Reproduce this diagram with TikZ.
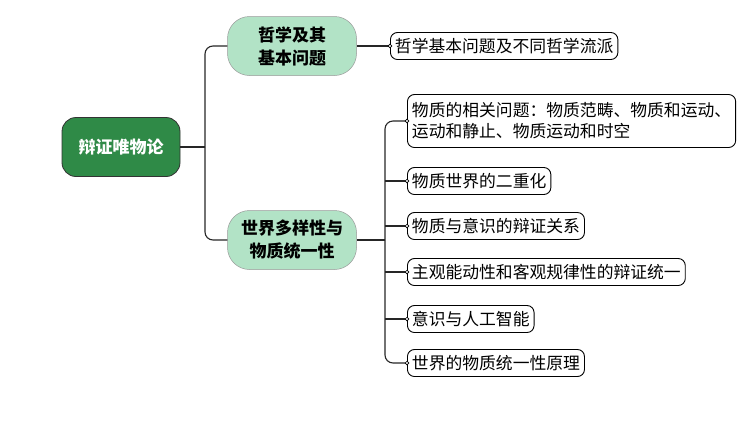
\documentclass[tikz,border=0pt]{standalone}
\usepackage{fontspec}
\newfontfamily\cjk{Noto Sans CJK SC}
\definecolor{rootg}{HTML}{2F8A47}
\definecolor{midg}{HTML}{B2E3C6}
\begin{document}
\begin{tikzpicture}[x=1pt,y=-1pt,
  font=\cjk\fontsize{16.8}{21}\selectfont,
  root/.style={draw=black!80,line width=0.8pt,fill=rootg,text=white,rounded corners=14pt,minimum width=118pt,minimum height=59pt,font=\cjk\bfseries\fontsize{17}{20}\selectfont},
  mid/.style={draw=black!40,line width=0.5pt,fill=midg,rounded corners=22pt,minimum width=129pt,minimum height=59pt,align=center,font=\cjk\bfseries\fontsize{17}{23}\selectfont},
  leaf/.style={draw=black,line width=0.9pt,fill=white,rounded corners=7pt,anchor=west,inner xsep=4.5pt,inner ysep=3pt,minimum height=27pt,align=left},
  conn/.style={line width=1.1pt,black!85},
  dot/.style={circle,draw=black,fill=white,inner sep=1.3pt,line width=0.6pt}]
\useasboundingbox (0,0) rectangle (751,445);
\node[root] (r) at (121,147) {辩证唯物论};
\node[mid] (a) at (292,46) {哲学及其\\基本问题};
\node[mid] (b) at (292,240) {世界多样性与\\物质统一性};
\node[leaf] (l0) at (390,46) {哲学基本问题及不同哲学流派};
\node[leaf,minimum height=53pt] (l1) at (407,121) {物质的相关问题：物质范畴、物质和运动、\\运动和静止、物质运动和时空};
\node[leaf] (l2) at (407,181) {物质世界的二重化};
\node[leaf] (l3) at (407,226) {物质与意识的辩证关系};
\node[leaf] (l4) at (407,272) {主观能动性和客观规律性的辩证统一};
\node[leaf] (l5) at (407,319) {意识与人工智能};
\node[leaf] (l6) at (407,363) {世界的物质统一性原理};
\coordinate (j) at (205,147);
\coordinate (k) at (385,240);
\draw[conn] (r.east) -- (j);
\draw[conn,rounded corners=8pt] (j) |- (a.west);
\draw[conn,rounded corners=8pt] (j) |- (b.west);
\draw[conn] (a.east) -- (l0.west) node[dot]{};
\draw[conn] (b.east) -- (k);
\foreach \n in {l1,l6}{\draw[conn,rounded corners=8pt] (k) |- (\n.west) node[dot]{};}
\foreach \n in {l2,l3,l4,l5}{\draw[conn] (k|-\n.west) -- (\n.west) node[dot]{};}
\end{tikzpicture}
\end{document}
